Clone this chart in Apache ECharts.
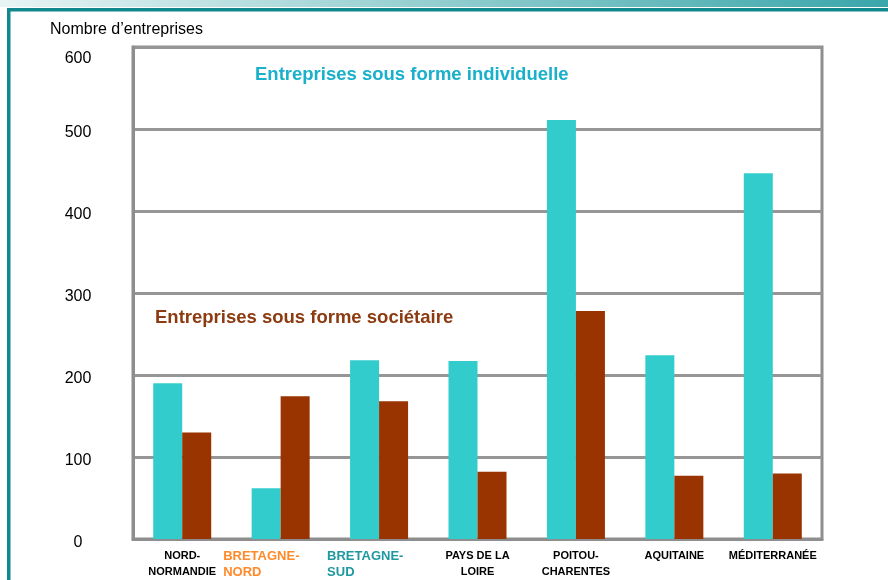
<!DOCTYPE html>
<html>
<head>
<meta charset="utf-8">
<script src="https://cdn.jsdelivr.net/npm/echarts@6/dist/echarts.min.js"></script>
<style>
  html, body { margin: 0; padding: 0; background: #fff; }
  #chart { width: 888px; height: 580px; }
</style>
</head>
<body>
<div id="chart"></div>
<script>
// Regions (x axis) - two-line labels as in the slide
const regions = [
  'NORD-\nNORMANDIE',
  'BRETAGNE-\nNORD',
  'BRETAGNE-\nSUD',
  'PAYS DE LA\nLOIRE',
  'POITOU-\nCHARENTES',
  'AQUITAINE',
  'MÉDITERRANÉE'
];
// label style key per region (two Bretagne labels are coloured)
const regionLabelStyle = ['n', 'bn', 'bs', 'n', 'n', 'n', 'n'];

// Number of companies
const individuelle = [190, 62, 218, 217, 511, 224, 446];
const societaire = [130, 174, 168, 82, 278, 77, 80];

const yTicks = [0, 100, 200, 300, 400, 500, 600];

const chart = echarts.init(document.getElementById('chart'));

const font = '"Liberation Sans", Arial, sans-serif';

chart.setOption({
  animation: false,
  backgroundColor: '#fff',
  textStyle: { fontFamily: font },
  grid: {
    left: 133,
    right: 66,
    top: 47,
    bottom: 41,
    show: true,
    borderColor: '#8e8e8e',
    borderWidth: 3
  },
  xAxis: {
    type: 'category',
    data: regions,
    axisLine: { show: true, lineStyle: { color: '#8e8e8e', width: 3 } },
    axisTick: { show: false },
    axisLabel: {
      interval: 0,
      margin: 9,
      formatter: (v, i) => v.split('\n').map(l => `{${regionLabelStyle[i]}|${l}}`).join('\n'),
      rich: {
        n: { fontFamily: font, fontSize: 11, fontWeight: 'bold', color: '#000', lineHeight: 16 },
        bn: { fontFamily: font, fontSize: 13, fontWeight: 'bold', color: '#ff8a2a', lineHeight: 16, width: 115, align: 'left' },
        bs: { fontFamily: font, fontSize: 13, fontWeight: 'bold', color: '#1f98a1', lineHeight: 16, width: 104, align: 'left' }
      }
    }
  },
  yAxis: {
    type: 'value',
    min: yTicks[0],
    max: yTicks[yTicks.length - 1],
    interval: 100,
    axisLine: { show: true, lineStyle: { color: '#8e8e8e', width: 3 } },
    axisTick: { show: false },
    splitLine: { show: true, lineStyle: { color: '#969696', width: 3 } },
    axisLabel: {
      margin: 55,
      align: 'center',
      fontSize: 16,
      color: '#000',
      fontFamily: font,
      formatter: v => (v === 600 ? '{top|600}' : '{v|' + v + '}'),
      rich: {
        v: { fontSize: 16, fontFamily: font, color: '#000', padding: [8, 0, 0, 0] },
        top: { fontSize: 16, fontFamily: font, color: '#000', padding: [23, 0, 0, 0] }
      }
    }
  },
  series: [
    {
      name: 'Entreprises sous forme individuelle',
      type: 'bar',
      data: individuelle,
      barWidth: 29,
      barGap: '0%',
      itemStyle: { color: '#33cccc' }
    },
    {
      name: 'Entreprises sous forme sociétaire',
      type: 'bar',
      data: societaire,
      barWidth: 29,
      barGap: '0%',
      itemStyle: { color: '#993300' }
    }
  ],
  graphic: [
    // slide frame
    {
      type: 'rect', left: 0, top: 0, z: 10,
      shape: { width: 888, height: 7 },
      style: {
        fill: new echarts.graphic.LinearGradient(0, 0, 1, 0, [
          { offset: 0, color: '#e8f4f4' },
          { offset: 1, color: '#3aa6aa' }
        ])
      }
    },
    { type: 'rect', left: 7, top: 8, z: 10, shape: { width: 881, height: 3.5 }, style: { fill: '#11888e' } },
    { type: 'rect', left: 7, top: 8, z: 10, shape: { width: 3.5, height: 572 }, style: { fill: '#11888e' } },
    // axis title
    {
      type: 'text', left: 50, top: 22,
      style: { text: 'Nombre d’entreprises', fontSize: 16, fontFamily: font, fill: '#000' }
    },
    // series labels
    {
      type: 'text', left: 255, top: 65,
      style: { text: 'Entreprises sous forme individuelle', fontSize: 18.5, fontWeight: 'bold', fontFamily: font, fill: '#18b0ca' }
    },
    {
      type: 'text', left: 155, top: 308,
      style: { text: 'Entreprises sous forme sociétaire', fontSize: 18.5, fontWeight: 'bold', fontFamily: font, fill: '#8c3b10' }
    }
  ]
});
</script>
</body>
</html>
